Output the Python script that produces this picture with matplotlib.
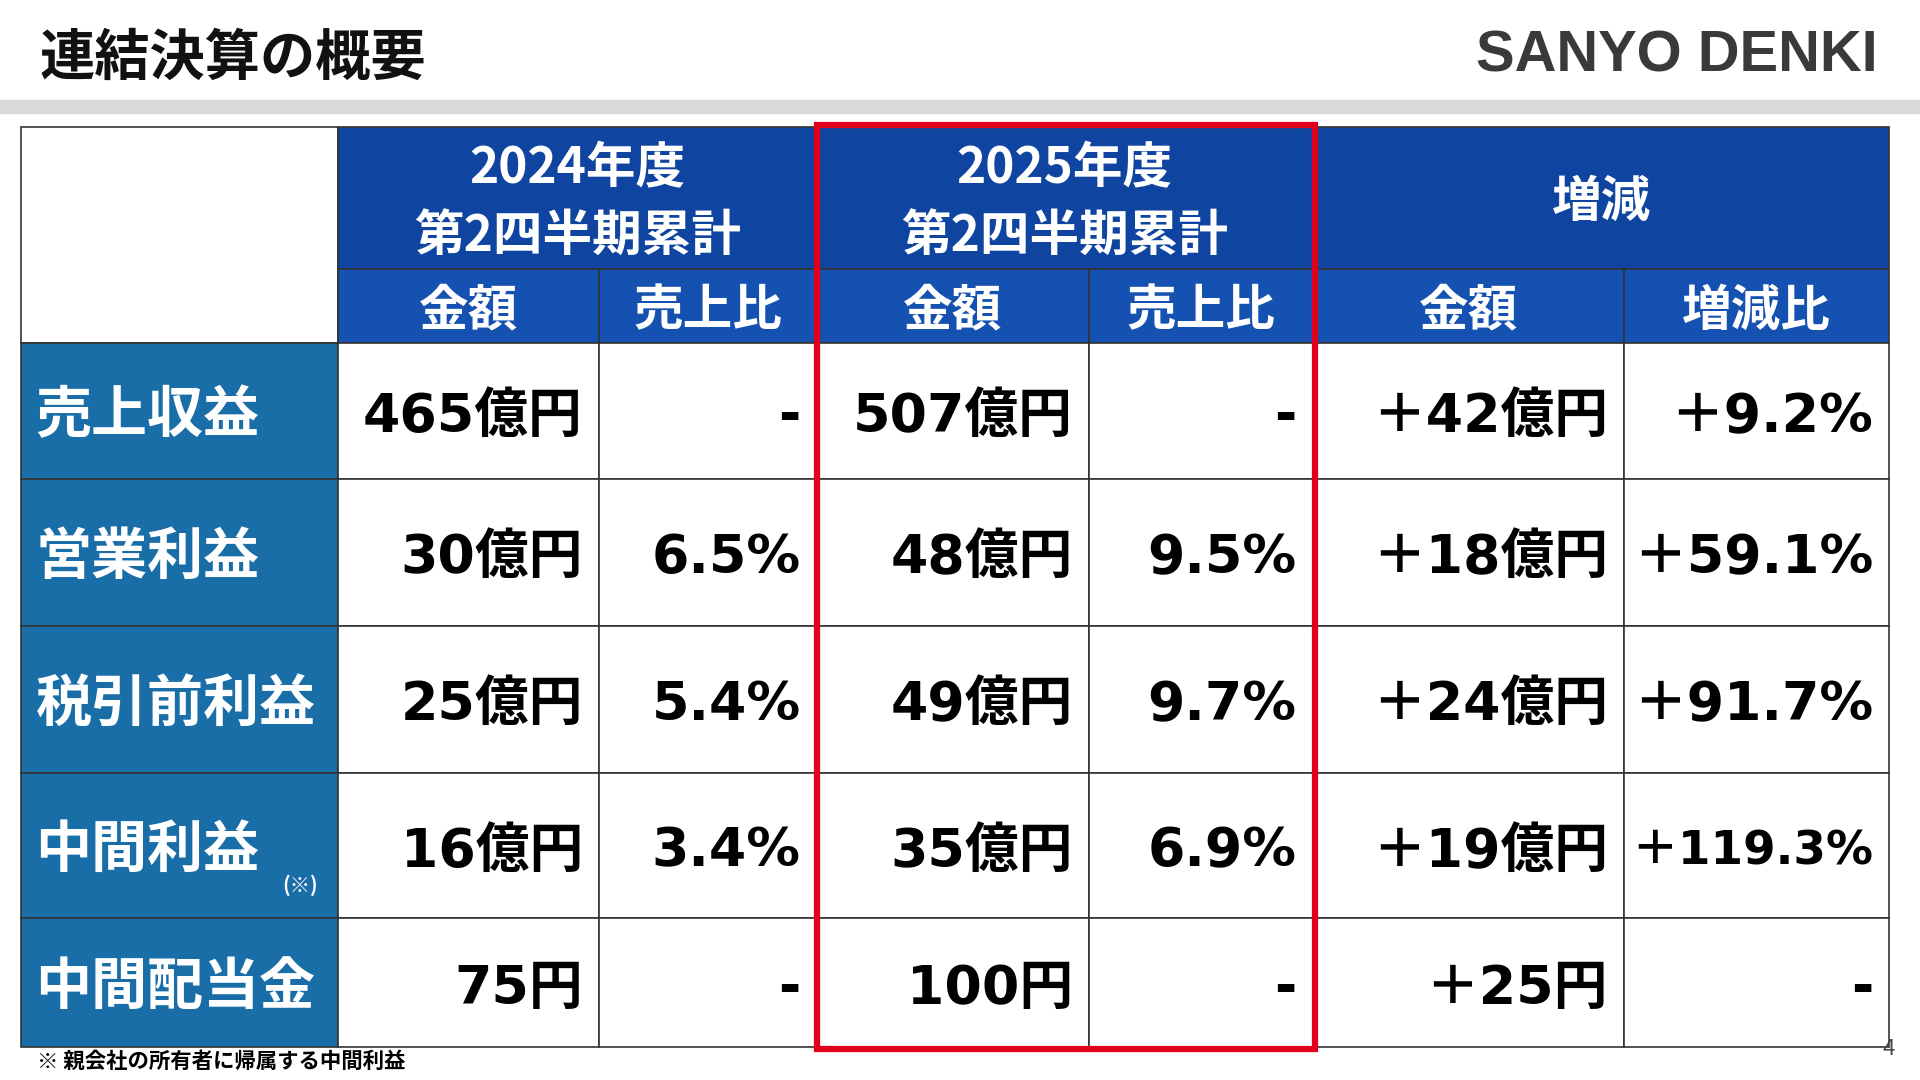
import matplotlib
matplotlib.use("Agg")
import matplotlib.pyplot as plt
from matplotlib.patches import Rectangle

rows = ["売上収益", "営業利益", "税引前利益", "中間利益", "中間配当金"]
amt_2024 = ["465億円", "30億円", "25億円", "16億円", "75円"]
ratio_2024 = ["-", "6.5%", "5.4%", "3.4%", "-"]
amt_2025 = ["507億円", "48億円", "49億円", "35億円", "100円"]
ratio_2025 = ["-", "9.5%", "9.7%", "6.9%", "-"]
diff_amt = ["+42億円", "+18億円", "+24億円", "+19億円", "+25円"]
diff_ratio = ["+9.2%", "+59.1%", "+91.7%", "+119.3%", "-"]
group_headers = ["2024年度", "2025年度", "増減"]
group_sub = ["第2四半期累計", "第2四半期累計", ""]
sub_headers = ["金額", "売上比", "金額", "売上比", "金額", "増減比"]

W, H = 1568, 882
fig = plt.figure(figsize=(19.2, 10.8), dpi=100)
ax = fig.add_axes([0, 0, 1, 1])
ax.set_xlim(0, W); ax.set_ylim(H, 0); ax.axis("off")
s = 1920 / 1568
JP = ["Noto Sans CJK JP", "DejaVu Sans"]
NUM = ["DejaVu Sans", "Noto Sans CJK JP"]

ax.text(32, 48, "連結決算の概要", family=JP, fontsize=26*s*1.25, weight="bold", va="center", color="#111")
ax.text(1533, 46, "SANYO DENKI", family=["Liberation Sans"], fontsize=34*s*1.0, weight="bold",
        va="center", ha="right", color="#3a3a3a")
ax.add_patch(Rectangle((0, 82), W, 10, color="#d9d9d9"))

xs = [17, 276, 489, 667, 889, 1072, 1326, 1543]
ys = [104, 220, 280, 391, 511, 631, 750, 855]
lw = 1.2
ax.add_patch(Rectangle((xs[0], ys[0]), xs[1]-xs[0], ys[2]-ys[0], fc="white", ec="#333", lw=lw))
for g, (a, b) in enumerate([(1, 3), (3, 5), (5, 7)]):
    ax.add_patch(Rectangle((xs[a], ys[0]), xs[b]-xs[a], ys[1]-ys[0], fc="#0f45a0", ec="#333", lw=lw))
    cx = (xs[a]+xs[b])/2
    if group_sub[g]:
        ax.text(cx, 138, group_headers[g], family=JP, fontsize=27*s*1.08, weight="bold",
                color="white", ha="center", va="center")
        ax.text(cx, 194, group_sub[g], family=JP, fontsize=27*s*1.08, weight="bold",
                color="white", ha="center", va="center")
    else:
        ax.text(cx, 165, group_headers[g], family=JP, fontsize=27*s*1.08, weight="bold",
                color="white", ha="center", va="center")
for c in range(6):
    ax.add_patch(Rectangle((xs[c+1], ys[1]), xs[c+2]-xs[c+1], ys[2]-ys[1], fc="#1551b0", ec="#333", lw=lw))
    ax.text((xs[c+1]+xs[c+2])/2, (ys[1]+ys[2])/2 + 4, sub_headers[c], family=JP, fontsize=27*s*1.08,
            weight="bold", color="white", ha="center", va="center")
cols = [amt_2024, ratio_2024, amt_2025, ratio_2025, diff_amt, diff_ratio]
for r in range(5):
    y0, y1 = ys[r+2], ys[r+3]
    ax.add_patch(Rectangle((xs[0], y0), xs[1]-xs[0], y1-y0, fc="#1a6ea8", ec="#333", lw=lw))
    ax.text(29, (y0+y1)/2 + 4, rows[r], family=JP, fontsize=32*s*1.03, weight="bold", color="white", va="center")
    if r == 3:
        ax.text(245, 723, "(※)", family=JP, fontsize=12*s*1.0, weight="bold", color="white", ha="center", va="center")
    for c in range(6):
        ax.add_patch(Rectangle((xs[c+1], y0), xs[c+2]-xs[c+1], y1-y0, fc="white", ec="#333", lw=lw))
        t = cols[c][r].replace("+", "＋")
        fs = 31 if t != "＋119.3%" else 27
        ax.text(xs[c+2]-13, (y0+y1)/2 + 5, t, family=NUM, fontsize=fs*s*1.02, weight="bold",
                color="black", ha="right", va="center")
ax.add_patch(Rectangle((667, 102), 407, 755, fill=False, ec="#e0001b", lw=4.5))
ax.text(30, 867, "※ 親会社の所有者に帰属する中間利益", family=JP, fontsize=12*s*1.05, weight="bold", va="center")
ax.text(1547, 857, "4", family=JP, fontsize=13*s, ha="right", va="center", color="#444")
fig.savefig("out.png", dpi=100)
